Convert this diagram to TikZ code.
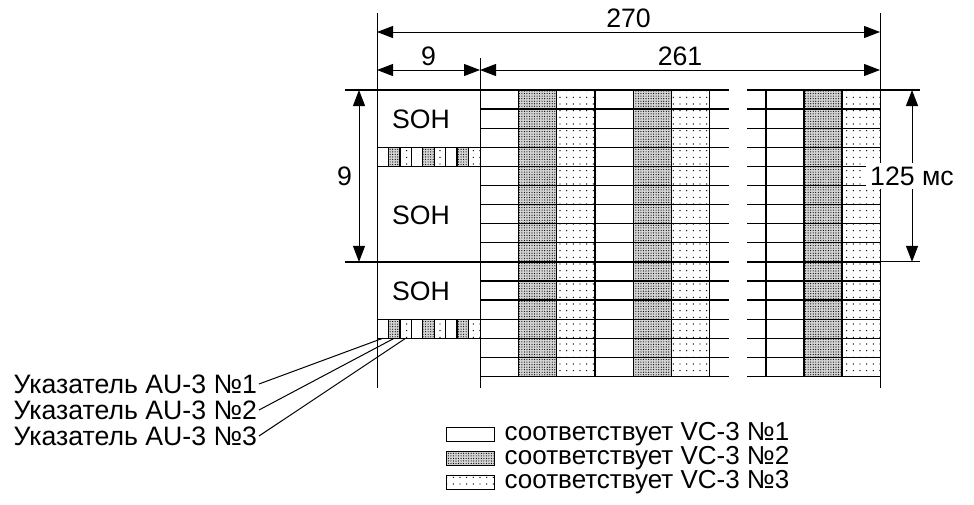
\documentclass[tikz,border=0pt]{standalone}
\usepackage{fontspec}
\setmainfont{Liberation Sans}
\usetikzlibrary{arrows.meta,positioning,patterns.meta}

\begin{document}
\begin{tikzpicture}[x=0.75pt,y=-0.75pt,line width=1pt,
  every node/.style={font=\fontsize{20}{22}\selectfont,inner sep=1pt},
  vctwo/.style={preaction={fill=black!17},pattern={Dots[distance=1.9pt,radius=0.45pt]}},
  vcthree/.style={pattern={Dots[distance=5pt,radius=0.55pt]}},
  dimline/.style={line width=0.75pt,{Triangle[length=12pt,width=9pt]}-{Triangle[length=12pt,width=9pt]}},
  extline/.style={line width=0.75pt},
  frameline/.style={line width=2pt},
  legtext/.style={anchor=west,inner sep=0pt,font=\fontsize{19.5}{21}\selectfont}]
  \useasboundingbox (0,0) rectangle (974,504);
  \def\rh{19.1}\def\cw{38.3}\def\pw{11.444}
  % Extension lines
  \coordinate (ltop) at (377,13);  \coordinate (lbot) at (377,388);
  \coordinate (mtop) at (480,58);  \coordinate (mbot) at (480,388);
  \coordinate (rtop) at (880,13);  \coordinate (rbot) at (880,388);
  \coordinate (rowa) at (345,90);  \coordinate (rowb) at (345,{90+9*\rh});
  % VC-3 columns
  \foreach \k in {1,4}
    \path[vctwo] (480+\k*\cw,90) rectangle ++(\cw,15*\rh);
  \foreach \k in {2,5}
    \path[vcthree] (480+\k*\cw,90) rectangle ++(\cw,15*\rh);
  \path[vctwo] (804,90) rectangle (842,{90+15*\rh});
  \path[vcthree] (842,90) rectangle (880,{90+15*\rh});
  % Row lines
  \foreach \j in {1,...,8,10,11,12,13,14,15}{
    \draw (480,{90+\j*\rh}) -- (729,{90+\j*\rh});
    \draw (747,{90+\j*\rh}) -- (880,{90+\j*\rh});
  }
  \foreach \k in {1,...,6}
    \draw (480+\k*\cw,90) -- (480+\k*\cw,{90+15*\rh});
  \foreach \x in {766,804,842}
    \draw (\x,90) -- (\x,{90+15*\rh});
  % Pointer rows
  \foreach \f in {0,9}{
    \foreach \p in {1,4,7}
      \path[vctwo] (377+\p*\pw,{90+(\f+3)*\rh}) rectangle ++(\pw,\rh);
    \foreach \p in {2,5,8}
      \path[vcthree] (377+\p*\pw,{90+(\f+3)*\rh}) rectangle ++(\pw,\rh);
    \foreach \p in {1,...,8}
      \draw (377+\p*\pw,{90+(\f+3)*\rh}) -- ++(0,\rh);
    \draw (377,{90+(\f+3)*\rh}) -- (480,{90+(\f+3)*\rh});
    \draw (377,{90+(\f+4)*\rh}) -- (480,{90+(\f+4)*\rh});
  }
  % Frame borders
  \draw (rowa) -- (729,90);
  \draw (747,90) -- (920,90);
  \draw[frameline] (rowb) -- (729,{90+9*\rh});
  \draw[frameline] (747,{90+9*\rh}) -- (880,{90+9*\rh});
  \draw[extline] (880,{90+9*\rh}) -- (920,{90+9*\rh});
  \draw[extline] (ltop) -- (lbot);
  \draw[extline] (mtop) -- (mbot);
  \draw[extline] (rtop) -- (rbot);
  % SOH
  \node (soh1) at (421,119) {SOH};
  \node (soh2) at (421,215) {SOH};
  \node (soh3) at (421,291) {SOH};
  % Dimensions
  \draw[dimline] (ltop |- 0,32) -- node[above=1.5pt] (d270) {270} (rtop |- 0,32);
  \draw[dimline] (ltop |- 0,70) -- node[above=1.5pt] (d9) {9} (mtop |- 0,70);
  \draw[dimline] (mtop |- 0,70) -- node[above=1.5pt] (d261) {261} (rtop |- 0,70);
  \draw[dimline] (359,90) -- node[left=4pt] (drows) {9} (359,{90+9*\rh});
  \draw[dimline] (912,90) -- node[fill=white,inner sep=3pt] (d125) {125 мс} (912,{90+9*\rh});
  % Pointer labels
  \foreach \p in {1,2,3}
    \coordinate (ptr\p) at ({377+(\p-0.5)*\pw},{90+13*\rh});
  \node[anchor=east] (au1) at (259,384) {Указатель AU-3 №1};
  \node[anchor=east] (au2) at (259,410) {Указатель AU-3 №2};
  \node[anchor=east] (au3) at (259,436) {Указатель AU-3 №3};
  \foreach \p in {1,2,3}
    \draw[extline] (au\p.east) -- (ptr\p);
  % Legend
  \draw[extline] (446,427) rectangle (494,441);
  \draw[extline,vctwo] (446,451) rectangle (494,465);
  \draw[extline,vcthree] (446,475) rectangle (494,489);
  \node[legtext] (leg1) at (504,434) {соответствует VC-3 №1};
  \node[legtext] (leg2) at (504,458) {соответствует VC-3 №2};
  \node[legtext] (leg3) at (504,482) {соответствует VC-3 №3};
\end{tikzpicture}
\end{document}
